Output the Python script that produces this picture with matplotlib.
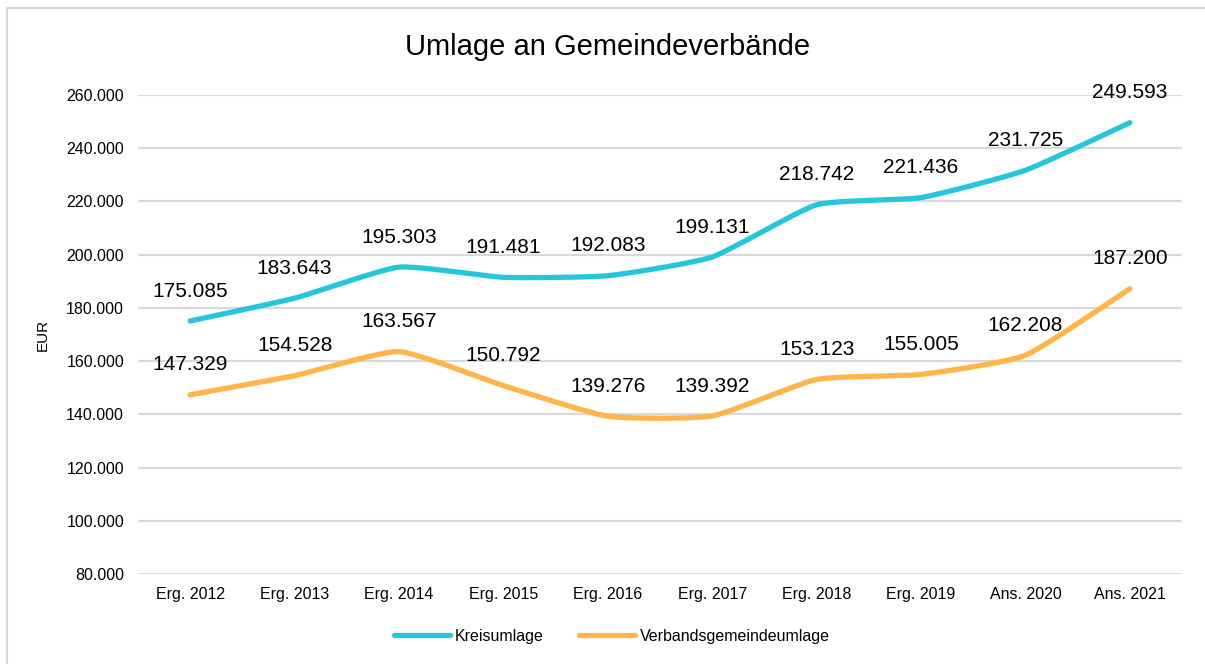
import numpy as np
import matplotlib
matplotlib.use("Agg")
import matplotlib.pyplot as plt
from matplotlib.patches import Rectangle

plt.rcParams["font.family"] = ["Liberation Sans", "DejaVu Sans"]

categories = ["Erg. 2012", "Erg. 2013", "Erg. 2014", "Erg. 2015", "Erg. 2016",
              "Erg. 2017", "Erg. 2018", "Erg. 2019", "Ans. 2020", "Ans. 2021"]
kreisumlage = [175085, 183643, 195303, 191481, 192083, 199131, 218742, 221436, 231725, 249593]
verbandsumlage = [147329, 154528, 163567, 150792, 139276, 139392, 153123, 155005, 162208, 187200]
yticks = list(range(80000, 260001, 20000))

colors = {"Kreisumlage": "#26C6DA", "Verbandsgemeindeumlage": "#FFB547"}


def smooth(xs, ys, n=24, k=12):
    # mildly smoothed line: cubic Bezier with damped Catmull-Rom control points
    xs = np.asarray(xs, float)
    ys = np.asarray(ys, float)
    px, py = [], []
    t = np.linspace(0, 1, n)
    for i in range(len(xs) - 1):
        p0 = np.array([xs[max(i - 1, 0)], ys[max(i - 1, 0)]])
        p1 = np.array([xs[i], ys[i]])
        p2 = np.array([xs[i + 1], ys[i + 1]])
        p3 = np.array([xs[min(i + 2, len(xs) - 1)], ys[min(i + 2, len(xs) - 1)]])
        c1 = p1 + (p2 - p0) / k
        c2 = p2 - (p3 - p1) / k
        seg = ((1 - t)[:, None] ** 3 * p1 + 3 * ((1 - t) ** 2 * t)[:, None] * c1
               + 3 * ((1 - t) * t ** 2)[:, None] * c2 + (t ** 3)[:, None] * p2)
        px.extend(seg[:, 0])
        py.extend(seg[:, 1])
    return px, py


fig = plt.figure(figsize=(12.05, 6.64), dpi=100)
ax = fig.add_axes([0.1145, 0.1355, 0.8665, 0.7215])

x = np.arange(len(categories))
for name, vals in [("Kreisumlage", kreisumlage), ("Verbandsgemeindeumlage", verbandsumlage)]:
    sx, sy = smooth(x, vals)
    ax.plot(sx, sy, color=colors[name], lw=3.8, solid_capstyle="round", label=name, zorder=3)
    for xi, v in zip(x, vals):
        ax.annotate(f"{v:,}".replace(",", "."), (xi, v), xytext=(0, 21.5),
                    textcoords="offset points", ha="center", va="center",
                    fontsize=15, color="#000000", annotation_clip=False, zorder=4)

ax.set_xlim(-0.5, len(categories) - 0.5)
ax.set_ylim(80000, 260000)
ax.set_yticks(yticks)
ax.set_yticklabels([f"{v:,}".replace(",", ".") for v in yticks])
ax.set_xticks(x)
ax.set_xticklabels(categories)
ax.tick_params(length=0, labelsize=11.5, colors="#000000", pad=10)
ax.tick_params(axis="x", pad=9)
ax.grid(axis="y", color="#D9D9D9", lw=1.5)
ax.set_axisbelow(True)
for s in ax.spines.values():
    s.set_visible(False)
ax.set_ylabel("EUR", fontsize=11, labelpad=12)

fig.text(0.504, 0.929, "Umlage an Gemeindeverbände", ha="center", va="center", fontsize=21)

fig.legend(loc="center", bbox_to_anchor=(0.508, 0.042), ncol=2, frameon=False,
           fontsize=11.5, handlelength=3.5, handletextpad=0.3, columnspacing=2.2)

fig.patches.append(Rectangle((7 / 1205, -0.1), 1.2, 1 - 8 / 664 + 0.1, transform=fig.transFigure,
                             fill=False, edgecolor="#D9D9D9", lw=1.5))

fig.savefig("out.png", dpi=100)
